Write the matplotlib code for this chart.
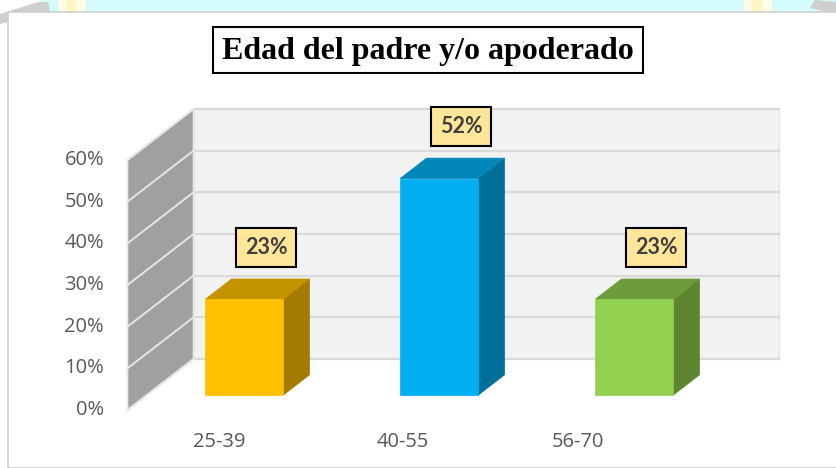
import matplotlib.pyplot as plt
from matplotlib.patches import Polygon, Rectangle

categories = ['25-39', '40-55', '56-70']
values = [23, 52, 23]          # percent
value_labels = ['23%', '52%', '23%']
yticks = [0, 10, 20, 30, 40, 50, 60]

front_colors = ['#ffc000', '#00b0f0', '#92d050']
top_colors = ['#c49300', '#0086b8', '#6e9b3c']
side_colors = ['#a47b00', '#006f97', '#5e8631']

# pseudo-3d geometry (data units: x = category, y = percent)
DX, DY = 0.3385, 12.24      # full depth offset of the walls
T0, T1 = 0.29, 0.69         # bar front / back depth fraction
BW = 0.4                    # bar width
XL, XR = -0.5, 2.5          # wall extent on the front plane
YMAX = 60

fig = plt.figure(figsize=(8.37, 4.68), dpi=100)

# background decoration in pixel coordinates
bg = fig.add_axes([0, 0, 1, 1], zorder=0)
bg.set_xlim(0, 837)
bg.set_ylim(468, 0)
bg.axis('off')
bg.add_patch(Rectangle((40, 0), 797, 12, color='#d6fbfd', lw=0))
for x0, col in [(58, '#fefbe6'), (66, '#fdf6c4'), (76, '#fefbe6'),
                (744, '#fefbe6'), (752, '#fdf6c4'), (762, '#fefbe6')]:
    bg.add_patch(Rectangle((x0, 0), 10, 12, color=col, lw=0))
bg.add_patch(Polygon([(0, 14), (0, 24), (50, 12), (48, 2), (38, 2)], color='#cfcfcf', lw=0))
bg.add_patch(Polygon([(837, 2), (837, 14), (810, 8), (815, 0)], color='#cfcfcf', lw=0))
bg.add_patch(Rectangle((8, 12), 829, 456, facecolor='white', edgecolor='#d0d0d0', lw=1.2))
bg.add_patch(Rectangle((213, 27), 430, 46, facecolor='white', edgecolor='black', lw=1.5))
bg.text(428, 51, 'Edad del padre y/o apoderado', ha='center', va='center',
        fontsize=23, fontweight='bold', family='Liberation Serif', color='black')

ax = fig.add_axes([0, 0, 1, 1], zorder=1)
ax.patch.set_alpha(0)
ax.set_xlim(-225 / 195, (837 - 225) / 195)
ax.set_ylim(-58 / 4.1667, 410 / 4.1667)
ax.axis('off')

# back wall
ax.add_patch(Polygon([(XL + DX, DY), (XR + DX, DY), (XR + DX, YMAX + DY), (XL + DX, YMAX + DY)],
                     facecolor='#f2f2f2', edgecolor='#e4e4e4', lw=0.8))
# left wall
ax.add_patch(Polygon([(XL, 0), (XL + DX, DY), (XL + DX, YMAX + DY), (XL, YMAX)],
                     facecolor='#a0a0a0', edgecolor='#e8e8e8', lw=1.2))
for t in yticks:
    ax.plot([XL + DX, XR + DX], [t + DY, t + DY], color='#d9d9d9', lw=1.6, zorder=2)
    ax.plot([XL, XL + DX], [t, t + DY], color='#e6e6e6', lw=1.4, zorder=2)
    ax.text(XL - 0.12, t, f'{t}%', ha='right', va='center', fontsize=14.5,
            family='Open Sans', color='#595959')

# bars
for i, v in enumerate(values):
    x0 = i + T0 * DX - BW / 2
    x1 = x0 + BW
    b = T0 * DY
    top = v + b
    ddx, ddy = (T1 - T0) * DX, (T1 - T0) * DY
    ax.add_patch(Polygon([(x1, b), (x1 + ddx, b + ddy), (x1 + ddx, top + ddy), (x1, top)],
                         facecolor=side_colors[i], edgecolor=side_colors[i], lw=0.5, zorder=3))
    ax.add_patch(Polygon([(x0, top), (x1, top), (x1 + ddx, top + ddy), (x0 + ddx, top + ddy)],
                         facecolor=top_colors[i], edgecolor=top_colors[i], lw=0.5, zorder=3))
    ax.add_patch(Rectangle((x0, b), BW, v, facecolor=front_colors[i],
                           edgecolor=front_colors[i], lw=0.5, zorder=4))
    ax.text(i + 0.21, v + 16, value_labels[i], ha='center', va='center', fontsize=15.5,
            fontweight='bold', family='Lato', color='#404040', zorder=5,
            bbox=dict(boxstyle='square,pad=0.42', facecolor='#ffe699',
                      edgecolor='black', lw=1.5))

label_x = [-0.03, -0.09, -0.19]
for i, c in enumerate(categories):
    ax.text(i + label_x[i], -7.7, c, ha='center', va='center', fontsize=14.5,
            family='Open Sans', color='#595959')

fig.savefig('out.png', dpi=100)
